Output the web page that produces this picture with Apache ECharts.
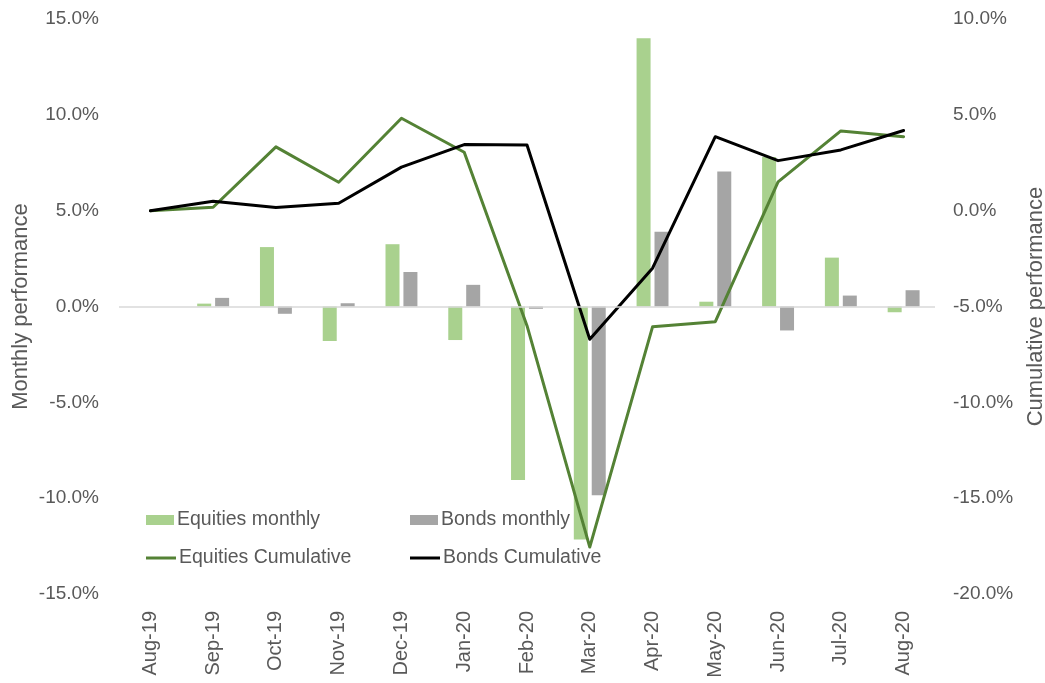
<!DOCTYPE html>
<html>
<head>
<meta charset="utf-8">
<script src="https://cdn.jsdelivr.net/npm/echarts@6/dist/echarts.min.js"></script>
<style>
html,body{margin:0;padding:0;background:#fff;overflow:hidden;}
#chart{width:1045px;height:683px;}
</style>
</head>
<body>
<div id="chart"></div>
<script>
const categories = ['Aug-19','Sep-19','Oct-19','Nov-19','Dec-19','Jan-20','Feb-20','Mar-20','Apr-20','May-20','Jun-20','Jul-20','Aug-20'];
const equitiesMonthly = [null, 0.15, 3.1, -1.8, 3.25, -1.75, -9.05, -12.15, 14.0, 0.25, 7.8, 2.55, -0.3];
const bondsMonthly = [null, 0.45, -0.38, 0.17, 1.8, 1.13, -0.12, -9.85, 3.9, 7.05, -1.25, 0.57, 0.85];
const equitiesCumulative = [0.0, 0.18, 3.33, 1.48, 4.82, 3.05, -6.0, -17.55, -6.06, -5.79, 1.5, 4.16, 3.86];
const bondsCumulative = [0.0, 0.49, 0.16, 0.39, 2.27, 3.45, 3.43, -6.71, -3.0, 3.86, 2.61, 3.17, 4.18];
const leftTicks = {min: -15, max: 15, interval: 5};
const rightTicks = {min: -20, max: 10, interval: 5};

const FONT = '"Liberation Sans", Arial, sans-serif';
const TXT = '#595959';
const pct = v => v.toFixed(1) + '%';

const chart = echarts.init(document.getElementById('chart'), null, {renderer: 'canvas', width: 1045, height: 683});
const legendBase = {
  padding: 0, itemGap: 0,
  textStyle: {color: TXT, fontSize: 19.5, fontFamily: FONT, padding: [0, 0, 0, -2]},
  selectedMode: false
};
chart.setOption({
  animation: false,
  grid: {left: 119, right: 110, top: 19, bottom: 89, containLabel: false, outerBoundsMode: 'none'},
  legend: [
    Object.assign({}, legendBase, {left: 146, top: 510, data: [{name: 'Equities monthly', icon: 'rect'}], itemWidth: 28, itemHeight: 10}),
    Object.assign({}, legendBase, {left: 410, top: 510, data: [{name: 'Bonds monthly', icon: 'rect'}], itemWidth: 28, itemHeight: 10}),
    Object.assign({}, legendBase, {left: 146, top: 548, data: [{name: 'Equities Cumulative', icon: 'rect'}], itemWidth: 30, itemHeight: 3}),
    Object.assign({}, legendBase, {left: 410, top: 548, data: [{name: 'Bonds Cumulative', icon: 'rect'}], itemWidth: 30, itemHeight: 3})
  ],
  xAxis: {
    type: 'category',
    data: categories,
    axisLine: {show: false, onZero: false},
    axisTick: {show: false},
    axisLabel: {rotate: 90, margin: 17, color: TXT, fontSize: 20, fontFamily: FONT},
    splitLine: {show: false}
  },
  yAxis: [
    {
      type: 'value', position: 'left',
      min: leftTicks.min, max: leftTicks.max, interval: leftTicks.interval,
      name: 'Monthly performance', nameLocation: 'middle', nameGap: 87, nameMoveOverlap: false,
      nameTextStyle: {color: TXT, fontSize: 22, fontFamily: FONT},
      axisLine: {show: false}, axisTick: {show: false}, splitLine: {show: false},
      axisLabel: {formatter: pct, margin: 20, color: TXT, fontSize: 19, fontFamily: FONT}
    },
    {
      type: 'value', position: 'right',
      min: rightTicks.min, max: rightTicks.max, interval: rightTicks.interval,
      name: 'Cumulative performance', nameLocation: 'middle', nameGap: 90, nameMoveOverlap: false,
      nameTextStyle: {color: TXT, fontSize: 22, fontFamily: FONT},
      axisLine: {show: false}, axisTick: {show: false}, splitLine: {show: false},
      axisLabel: {formatter: pct, margin: 18, color: TXT, fontSize: 19, fontFamily: FONT}
    }
  ],
  series: [
    {
      name: 'Equities monthly', type: 'bar', yAxisIndex: 0, data: equitiesMonthly,
      barWidth: 14, barGap: '28%', itemStyle: {color: '#a9d18e'},
      markLine: {
        silent: true, symbol: 'none', label: {show: false},
        lineStyle: {color: '#d9d9d9', width: 1.5, type: 'solid'},
        data: [{yAxis: 0}]
      }
    },
    {
      name: 'Bonds monthly', type: 'bar', yAxisIndex: 0, data: bondsMonthly,
      barWidth: 14, itemStyle: {color: '#a5a5a5'}
    },
    {
      name: 'Equities Cumulative', type: 'line', yAxisIndex: 1, data: equitiesCumulative,
      showSymbol: false, symbol: 'none', color: '#548235', itemStyle: {color: '#548235'},
      lineStyle: {color: '#548235', width: 3, join: 'round', cap: 'round'}
    },
    {
      name: 'Bonds Cumulative', type: 'line', yAxisIndex: 1, data: bondsCumulative,
      showSymbol: false, symbol: 'none', color: '#000000', itemStyle: {color: '#000000'},
      lineStyle: {color: '#000000', width: 3, join: 'round', cap: 'round'}
    }
  ]
});
</script>
</body>
</html>
